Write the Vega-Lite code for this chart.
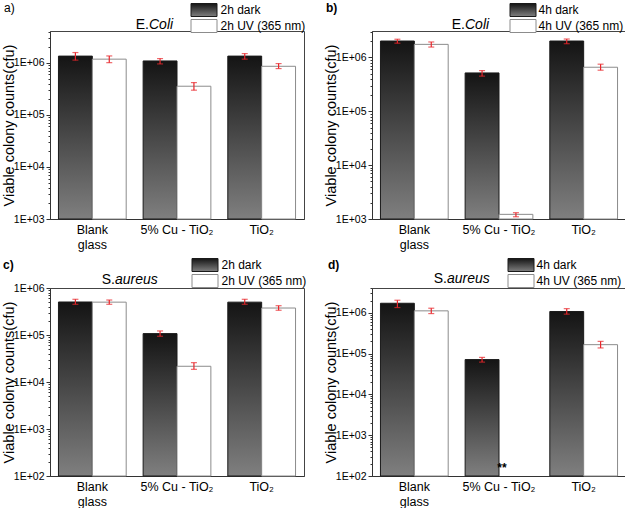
{
  "$schema": "https://vega.github.io/schema/vega-lite/v6.json",
  "padding": {"left": 0, "top": 1, "right": 0, "bottom": 0},
  "config": {
    "font": "Liberation Sans",
    "view": {"stroke": "#444", "strokeWidth": 1},
    "axis": {"grid": false, "domainColor": "#333", "tickColor": "#333", "labelColor": "black", "titleColor": "black"}
  },
  "resolve": {"scale": {"xOffset": "independent", "stroke": "independent", "fill": "independent", "x": "independent", "y": "independent"}, "legend": {"stroke": "independent", "fill": "independent"}, "axis": {"x": "independent", "y": "independent"}},
  "datasets": {
    "a": [
      {"group": "Blank glass", "series": "2h dark", "value": 1350000, "lo": 1130000, "hi": 1580000},
      {"group": "Blank glass", "series": "2h UV (365 nm)", "value": 1180000, "lo": 1010000, "hi": 1360000},
      {"group": "5% Cu - TiO₂", "series": "2h dark", "value": 1090000, "lo": 955000, "hi": 1210000},
      {"group": "5% Cu - TiO₂", "series": "2h UV (365 nm)", "value": 356000, "lo": 299000, "hi": 418000},
      {"group": "TiO₂", "series": "2h dark", "value": 1350000, "lo": 1180000, "hi": 1510000},
      {"group": "TiO₂", "series": "2h UV (365 nm)", "value": 860000, "lo": 777000, "hi": 970000}
    ],
    "b": [
      {"group": "Blank glass", "series": "4h dark", "value": 2020000, "lo": 1840000, "hi": 2180000},
      {"group": "Blank glass", "series": "4h UV (365 nm)", "value": 1750000, "lo": 1560000, "hi": 1940000},
      {"group": "5% Cu - TiO₂", "series": "4h dark", "value": 516000, "lo": 450000, "hi": 570000},
      {"group": "5% Cu - TiO₂", "series": "4h UV (365 nm)", "value": 1220, "lo": 1100, "hi": 1310},
      {"group": "TiO₂", "series": "4h dark", "value": 2020000, "lo": 1800000, "hi": 2200000},
      {"group": "TiO₂", "series": "4h UV (365 nm)", "value": 658000, "lo": 580000, "hi": 750000}
    ],
    "c": [
      {"group": "Blank glass", "series": "2h dark", "value": 504000, "lo": 450000, "hi": 575000},
      {"group": "Blank glass", "series": "2h UV (365 nm)", "value": 500000, "lo": 450000, "hi": 555000},
      {"group": "5% Cu - TiO₂", "series": "2h dark", "value": 107000, "lo": 94000, "hi": 122000},
      {"group": "5% Cu - TiO₂", "series": "2h UV (365 nm)", "value": 21600, "lo": 18600, "hi": 25800},
      {"group": "TiO₂", "series": "2h dark", "value": 500000, "lo": 450000, "hi": 575000},
      {"group": "TiO₂", "series": "2h UV (365 nm)", "value": 375000, "lo": 336000, "hi": 420000}
    ],
    "d": [
      {"group": "Blank glass", "series": "4h dark", "value": 1720000, "lo": 1350000, "hi": 2040000},
      {"group": "Blank glass", "series": "4h UV (365 nm)", "value": 1120000, "lo": 960000, "hi": 1300000},
      {"group": "5% Cu - TiO₂", "series": "4h dark", "value": 71500, "lo": 62000, "hi": 81000},
      {"group": "TiO₂", "series": "4h dark", "value": 1080000, "lo": 930000, "hi": 1270000},
      {"group": "TiO₂", "series": "4h UV (365 nm)", "value": 166000, "lo": 138000, "hi": 200000}
    ]
  },
  "concat": [
    {
      "width": 254, "height": 188,
      "title": {"text": "a)", "anchor": "start", "frame": "group", "offset": -21, "dx": -46, "fontSize": 12, "fontWeight": "normal", "baseline": "alphabetic", "color": "black"},
      "data": {"name": "a"},
      "layer": [
        {
          "mark": {"type": "bar", "strokeWidth": 1},
          "encoding": {
            "x": {"field": "group", "type": "nominal", "title": null, "scale": {"domain": ["Blank glass", "5% Cu - TiO₂", "TiO₂"], "paddingInner": 0.2, "paddingOuter": 0.1}, "axis": {"labelFontSize": 12.5, "labelPadding": 4, "ticks": false, "labelAngle": 0, "labelLineHeight": 15, "labelExpr": "datum.value == 'Blank glass' ? ['Blank', 'glass'] : datum.value"}},
            "xOffset": {"field": "series", "type": "nominal", "scale": {"domain": ["2h dark", "2h UV (365 nm)"]}},
            "y": {"field": "value", "type": "quantitative", "stack": null, "title": "Viable colony counts(cfu)", "scale": {"type": "log", "domain": [1000, 4100000], "nice": false},
              "axis": {"titleFontSize": 14.5, "titleFontWeight": "normal", "titlePadding": -3, "labelFontSize": 10.5, "labelPadding": 2, "labelOverlap": false,
                "values": [1000, 2000, 3000, 4000, 5000, 6000, 7000, 8000, 9000, 10000, 20000, 30000, 40000, 50000, 60000, 70000, 80000, 90000, 100000, 200000, 300000, 400000, 500000, 600000, 700000, 800000, 900000, 1000000, 2000000, 3000000, 4000000],
                "labelExpr": "abs(log(datum.value)/LN10 - round(log(datum.value)/LN10)) < 0.001 ? '1E+0' + round(log(datum.value)/LN10) : ''",
                "tickSize": {"condition": {"test": "abs(log(datum.value)/LN10 - round(log(datum.value)/LN10)) < 0.001", "value": 4}, "value": 2}}},
            "fill": {"field": "series", "type": "nominal", "scale": {"domain": ["2h dark", "2h UV (365 nm)"], "range": [{"expr": "{gradient: 'linear', x1: 0, y1: 0, x2: 0, y2: 1, stops: [{offset: 0, color: '#141414'}, {offset: 1, color: '#7f7f7f'}]}"}, "white"]},
              "legend": {"title": null, "orient": "none", "legendX": 147, "legendY": -28, "symbolType": "M-2,-1H2V1H-2Z", "symbolSize": 169, "symbolStrokeWidth": 1, "labelFontSize": 12, "labelColor": "black", "labelOffset": 9.5, "rowPadding": -5.5, "padding": 0, "symbolOpacity": 1}},
            "stroke": {"field": "series", "type": "nominal", "scale": {"domain": ["2h dark", "2h UV (365 nm)"], "range": ["#1a1a1a", "#8c8c8c"]},
              "legend": {"title": null, "orient": "none", "legendX": 147, "legendY": -28, "symbolType": "M-2,-1H2V1H-2Z", "symbolSize": 169, "symbolStrokeWidth": 1, "labelFontSize": 12, "labelColor": "black", "labelOffset": 9.5, "rowPadding": -5.5, "padding": 0, "symbolOpacity": 1}}
          }
        },
        {
          "mark": {"type": "rule", "color": "#e8262b", "strokeWidth": 1.2},
          "encoding": {
            "x": {"field": "group", "type": "nominal", "title": null},
            "xOffset": {"field": "series", "type": "nominal"},
            "y": {"field": "lo", "type": "quantitative", "title": "Viable colony counts(cfu)"},
            "y2": {"field": "hi"}
          }
        },
        {
          "mark": {"type": "tick", "color": "#e8262b", "size": 6, "thickness": 1.2},
          "encoding": {
            "x": {"field": "group", "type": "nominal", "title": null},
            "xOffset": {"field": "series", "type": "nominal"},
            "y": {"field": "lo", "type": "quantitative", "title": "Viable colony counts(cfu)"}
          }
        },
        {
          "mark": {"type": "tick", "color": "#e8262b", "size": 6, "thickness": 1.2},
          "encoding": {
            "x": {"field": "group", "type": "nominal", "title": null},
            "xOffset": {"field": "series", "type": "nominal"},
            "y": {"field": "hi", "type": "quantitative", "title": "Viable colony counts(cfu)"}
          }
        },
        {
          "data": {"values": [{"t": "E."}]},
          "mark": {"type": "text", "align": "right", "baseline": "alphabetic", "dx": -28, "dy": -2, "fontSize": 14, "color": "black"},
          "encoding": {
            "x": {"datum": "5% Cu - TiO₂", "type": "nominal", "title": null},
            "y": {"datum": 4100000, "type": "quantitative", "title": "Viable colony counts(cfu)"},
            "text": {"field": "t"}
          }
        },
        {
          "data": {"values": [{"t": "Coli"}]},
          "mark": {"type": "text", "align": "left", "baseline": "alphabetic", "dx": -28, "dy": -2, "fontSize": 14, "fontStyle": "italic", "color": "black"},
          "encoding": {
            "x": {"datum": "5% Cu - TiO₂", "type": "nominal", "title": null},
            "y": {"datum": 4100000, "type": "quantitative", "title": "Viable colony counts(cfu)"},
            "text": {"field": "t"}
          }
        }
      ]
    },
    {
      "width": 254, "height": 188,
      "title": {"text": "b)", "anchor": "start", "frame": "group", "offset": -21, "dx": -46, "fontSize": 12, "fontWeight": "bold", "baseline": "alphabetic", "color": "black"},
      "data": {"name": "b"},
      "layer": [
        {
          "mark": {"type": "bar", "strokeWidth": 1},
          "encoding": {
            "x": {"field": "group", "type": "nominal", "title": null, "scale": {"domain": ["Blank glass", "5% Cu - TiO₂", "TiO₂"], "paddingInner": 0.2, "paddingOuter": 0.1}, "axis": {"labelFontSize": 12.5, "labelPadding": 4, "ticks": false, "labelAngle": 0, "labelLineHeight": 15, "labelExpr": "datum.value == 'Blank glass' ? ['Blank', 'glass'] : datum.value"}},
            "xOffset": {"field": "series", "type": "nominal", "scale": {"domain": ["4h dark", "4h UV (365 nm)"]}},
            "y": {"field": "value", "type": "quantitative", "stack": null, "title": "Viable colony counts(cfu)", "scale": {"type": "log", "domain": [1000, 3100000], "nice": false},
              "axis": {"titleFontSize": 14.5, "titleFontWeight": "normal", "titlePadding": -3, "labelFontSize": 10.5, "labelPadding": 2, "labelOverlap": false,
                "values": [1000, 2000, 3000, 4000, 5000, 6000, 7000, 8000, 9000, 10000, 20000, 30000, 40000, 50000, 60000, 70000, 80000, 90000, 100000, 200000, 300000, 400000, 500000, 600000, 700000, 800000, 900000, 1000000, 2000000, 3000000],
                "labelExpr": "abs(log(datum.value)/LN10 - round(log(datum.value)/LN10)) < 0.001 ? '1E+0' + round(log(datum.value)/LN10) : ''",
                "tickSize": {"condition": {"test": "abs(log(datum.value)/LN10 - round(log(datum.value)/LN10)) < 0.001", "value": 4}, "value": 2}}},
            "fill": {"field": "series", "type": "nominal", "scale": {"domain": ["4h dark", "4h UV (365 nm)"], "range": [{"expr": "{gradient: 'linear', x1: 0, y1: 0, x2: 0, y2: 1, stops: [{offset: 0, color: '#141414'}, {offset: 1, color: '#7f7f7f'}]}"}, "white"]},
              "legend": {"title": null, "orient": "none", "legendX": 144, "legendY": -28, "symbolType": "M-2,-1H2V1H-2Z", "symbolSize": 169, "symbolStrokeWidth": 1, "labelFontSize": 12, "labelColor": "black", "labelOffset": 8.5, "rowPadding": -5.5, "padding": 0, "symbolOpacity": 1}},
            "stroke": {"field": "series", "type": "nominal", "scale": {"domain": ["4h dark", "4h UV (365 nm)"], "range": ["#1a1a1a", "#8c8c8c"]},
              "legend": {"title": null, "orient": "none", "legendX": 144, "legendY": -28, "symbolType": "M-2,-1H2V1H-2Z", "symbolSize": 169, "symbolStrokeWidth": 1, "labelFontSize": 12, "labelColor": "black", "labelOffset": 8.5, "rowPadding": -5.5, "padding": 0, "symbolOpacity": 1}}
          }
        },
        {
          "mark": {"type": "rule", "color": "#e8262b", "strokeWidth": 1.2},
          "encoding": {
            "x": {"field": "group", "type": "nominal", "title": null},
            "xOffset": {"field": "series", "type": "nominal"},
            "y": {"field": "lo", "type": "quantitative", "title": "Viable colony counts(cfu)"},
            "y2": {"field": "hi"}
          }
        },
        {
          "mark": {"type": "tick", "color": "#e8262b", "size": 6, "thickness": 1.2},
          "encoding": {
            "x": {"field": "group", "type": "nominal", "title": null},
            "xOffset": {"field": "series", "type": "nominal"},
            "y": {"field": "lo", "type": "quantitative", "title": "Viable colony counts(cfu)"}
          }
        },
        {
          "mark": {"type": "tick", "color": "#e8262b", "size": 6, "thickness": 1.2},
          "encoding": {
            "x": {"field": "group", "type": "nominal", "title": null},
            "xOffset": {"field": "series", "type": "nominal"},
            "y": {"field": "hi", "type": "quantitative", "title": "Viable colony counts(cfu)"}
          }
        },
        {
          "data": {"values": [{"t": "E."}]},
          "mark": {"type": "text", "align": "right", "baseline": "alphabetic", "dx": -34, "dy": -2, "fontSize": 14, "color": "black"},
          "encoding": {
            "x": {"datum": "5% Cu - TiO₂", "type": "nominal", "title": null},
            "y": {"datum": 3100000, "type": "quantitative", "title": "Viable colony counts(cfu)"},
            "text": {"field": "t"}
          }
        },
        {
          "data": {"values": [{"t": "Coli"}]},
          "mark": {"type": "text", "align": "left", "baseline": "alphabetic", "dx": -34, "dy": -2, "fontSize": 14, "fontStyle": "italic", "color": "black"},
          "encoding": {
            "x": {"datum": "5% Cu - TiO₂", "type": "nominal", "title": null},
            "y": {"datum": 3100000, "type": "quantitative", "title": "Viable colony counts(cfu)"},
            "text": {"field": "t"}
          }
        }
      ]
    },
    {
      "width": 254, "height": 188,
      "title": {"text": "c)", "anchor": "start", "frame": "group", "offset": -23, "dx": -47, "fontSize": 12, "fontWeight": "bold", "baseline": "alphabetic", "color": "black"},
      "data": {"name": "c"},
      "layer": [
        {
          "mark": {"type": "bar", "strokeWidth": 1},
          "encoding": {
            "x": {"field": "group", "type": "nominal", "title": null, "scale": {"domain": ["Blank glass", "5% Cu - TiO₂", "TiO₂"], "paddingInner": 0.2, "paddingOuter": 0.1}, "axis": {"labelFontSize": 12.5, "labelPadding": 4, "ticks": false, "labelAngle": 0, "labelLineHeight": 15, "labelExpr": "datum.value == 'Blank glass' ? ['Blank', 'glass'] : datum.value"}},
            "xOffset": {"field": "series", "type": "nominal", "scale": {"domain": ["2h dark", "2h UV (365 nm)"]}},
            "y": {"field": "value", "type": "quantitative", "stack": null, "title": "Viable colony counts(cfu)", "scale": {"type": "log", "domain": [100, 1000000], "nice": false},
              "axis": {"titleFontSize": 14.5, "titleFontWeight": "normal", "titlePadding": -3, "labelFontSize": 10.5, "labelPadding": 2, "labelOverlap": false,
                "values": [100, 200, 300, 400, 500, 600, 700, 800, 900, 1000, 2000, 3000, 4000, 5000, 6000, 7000, 8000, 9000, 10000, 20000, 30000, 40000, 50000, 60000, 70000, 80000, 90000, 100000, 200000, 300000, 400000, 500000, 600000, 700000, 800000, 900000, 1000000],
                "labelExpr": "abs(log(datum.value)/LN10 - round(log(datum.value)/LN10)) < 0.001 ? '1E+0' + round(log(datum.value)/LN10) : ''",
                "tickSize": {"condition": {"test": "abs(log(datum.value)/LN10 - round(log(datum.value)/LN10)) < 0.001", "value": 4}, "value": 2}}},
            "fill": {"field": "series", "type": "nominal", "scale": {"domain": ["2h dark", "2h UV (365 nm)"], "range": [{"expr": "{gradient: 'linear', x1: 0, y1: 0, x2: 0, y2: 1, stops: [{offset: 0, color: '#141414'}, {offset: 1, color: '#7f7f7f'}]}"}, "white"]},
              "legend": {"title": null, "orient": "none", "legendX": 148, "legendY": -30, "symbolType": "M-2,-1H2V1H-2Z", "symbolSize": 169, "symbolStrokeWidth": 1, "labelFontSize": 12, "labelColor": "black", "labelOffset": 9.5, "rowPadding": -5.5, "padding": 0, "symbolOpacity": 1}},
            "stroke": {"field": "series", "type": "nominal", "scale": {"domain": ["2h dark", "2h UV (365 nm)"], "range": ["#1a1a1a", "#8c8c8c"]},
              "legend": {"title": null, "orient": "none", "legendX": 148, "legendY": -30, "symbolType": "M-2,-1H2V1H-2Z", "symbolSize": 169, "symbolStrokeWidth": 1, "labelFontSize": 12, "labelColor": "black", "labelOffset": 9.5, "rowPadding": -5.5, "padding": 0, "symbolOpacity": 1}}
          }
        },
        {
          "mark": {"type": "rule", "color": "#e8262b", "strokeWidth": 1.2},
          "encoding": {
            "x": {"field": "group", "type": "nominal", "title": null},
            "xOffset": {"field": "series", "type": "nominal"},
            "y": {"field": "lo", "type": "quantitative", "title": "Viable colony counts(cfu)"},
            "y2": {"field": "hi"}
          }
        },
        {
          "mark": {"type": "tick", "color": "#e8262b", "size": 6, "thickness": 1.2},
          "encoding": {
            "x": {"field": "group", "type": "nominal", "title": null},
            "xOffset": {"field": "series", "type": "nominal"},
            "y": {"field": "lo", "type": "quantitative", "title": "Viable colony counts(cfu)"}
          }
        },
        {
          "mark": {"type": "tick", "color": "#e8262b", "size": 6, "thickness": 1.2},
          "encoding": {
            "x": {"field": "group", "type": "nominal", "title": null},
            "xOffset": {"field": "series", "type": "nominal"},
            "y": {"field": "hi", "type": "quantitative", "title": "Viable colony counts(cfu)"}
          }
        },
        {
          "data": {"values": [{"t": "S."}]},
          "mark": {"type": "text", "align": "right", "baseline": "alphabetic", "dx": -62, "dy": -4, "fontSize": 14, "color": "black"},
          "encoding": {
            "x": {"datum": "5% Cu - TiO₂", "type": "nominal", "title": null},
            "y": {"datum": 1000000, "type": "quantitative", "title": "Viable colony counts(cfu)"},
            "text": {"field": "t"}
          }
        },
        {
          "data": {"values": [{"t": "aureus"}]},
          "mark": {"type": "text", "align": "left", "baseline": "alphabetic", "dx": -62, "dy": -4, "fontSize": 14, "fontStyle": "italic", "color": "black"},
          "encoding": {
            "x": {"datum": "5% Cu - TiO₂", "type": "nominal", "title": null},
            "y": {"datum": 1000000, "type": "quantitative", "title": "Viable colony counts(cfu)"},
            "text": {"field": "t"}
          }
        }
      ]
    },
    {
      "width": 254, "height": 188,
      "title": {"text": "d)", "anchor": "start", "frame": "group", "offset": -23, "dx": -44, "fontSize": 12, "fontWeight": "bold", "baseline": "alphabetic", "color": "black"},
      "data": {"name": "d"},
      "layer": [
        {
          "mark": {"type": "bar", "strokeWidth": 1},
          "encoding": {
            "x": {"field": "group", "type": "nominal", "title": null, "scale": {"domain": ["Blank glass", "5% Cu - TiO₂", "TiO₂"], "paddingInner": 0.2, "paddingOuter": 0.1}, "axis": {"labelFontSize": 12.5, "labelPadding": 4, "ticks": false, "labelAngle": 0, "labelLineHeight": 15, "labelExpr": "datum.value == 'Blank glass' ? ['Blank', 'glass'] : datum.value"}},
            "xOffset": {"field": "series", "type": "nominal", "scale": {"domain": ["4h dark", "4h UV (365 nm)"]}},
            "y": {"field": "value", "type": "quantitative", "stack": null, "title": "Viable colony counts(cfu)", "scale": {"type": "log", "domain": [100, 4070000], "nice": false},
              "axis": {"titleFontSize": 14.5, "titleFontWeight": "normal", "titlePadding": -3, "labelFontSize": 10.5, "labelPadding": 2, "labelOverlap": false,
                "values": [100, 200, 300, 400, 500, 600, 700, 800, 900, 1000, 2000, 3000, 4000, 5000, 6000, 7000, 8000, 9000, 10000, 20000, 30000, 40000, 50000, 60000, 70000, 80000, 90000, 100000, 200000, 300000, 400000, 500000, 600000, 700000, 800000, 900000, 1000000, 2000000, 3000000, 4000000],
                "labelExpr": "abs(log(datum.value)/LN10 - round(log(datum.value)/LN10)) < 0.001 ? '1E+0' + round(log(datum.value)/LN10) : ''",
                "tickSize": {"condition": {"test": "abs(log(datum.value)/LN10 - round(log(datum.value)/LN10)) < 0.001", "value": 4}, "value": 2}}},
            "fill": {"field": "series", "type": "nominal", "scale": {"domain": ["4h dark", "4h UV (365 nm)"], "range": [{"expr": "{gradient: 'linear', x1: 0, y1: 0, x2: 0, y2: 1, stops: [{offset: 0, color: '#141414'}, {offset: 1, color: '#7f7f7f'}]}"}, "white"]},
              "legend": {"title": null, "orient": "none", "legendX": 142, "legendY": -30, "symbolType": "M-2,-1H2V1H-2Z", "symbolSize": 169, "symbolStrokeWidth": 1, "labelFontSize": 12, "labelColor": "black", "labelOffset": 8.5, "rowPadding": -5.5, "padding": 0, "symbolOpacity": 1}},
            "stroke": {"field": "series", "type": "nominal", "scale": {"domain": ["4h dark", "4h UV (365 nm)"], "range": ["#1a1a1a", "#8c8c8c"]},
              "legend": {"title": null, "orient": "none", "legendX": 142, "legendY": -30, "symbolType": "M-2,-1H2V1H-2Z", "symbolSize": 169, "symbolStrokeWidth": 1, "labelFontSize": 12, "labelColor": "black", "labelOffset": 8.5, "rowPadding": -5.5, "padding": 0, "symbolOpacity": 1}}
          }
        },
        {
          "mark": {"type": "rule", "color": "#e8262b", "strokeWidth": 1.2},
          "encoding": {
            "x": {"field": "group", "type": "nominal", "title": null},
            "xOffset": {"field": "series", "type": "nominal"},
            "y": {"field": "lo", "type": "quantitative", "title": "Viable colony counts(cfu)"},
            "y2": {"field": "hi"}
          }
        },
        {
          "mark": {"type": "tick", "color": "#e8262b", "size": 6, "thickness": 1.2},
          "encoding": {
            "x": {"field": "group", "type": "nominal", "title": null},
            "xOffset": {"field": "series", "type": "nominal"},
            "y": {"field": "lo", "type": "quantitative", "title": "Viable colony counts(cfu)"}
          }
        },
        {
          "mark": {"type": "tick", "color": "#e8262b", "size": 6, "thickness": 1.2},
          "encoding": {
            "x": {"field": "group", "type": "nominal", "title": null},
            "xOffset": {"field": "series", "type": "nominal"},
            "y": {"field": "hi", "type": "quantitative", "title": "Viable colony counts(cfu)"}
          }
        },
        {
          "data": {"values": [{"group": "5% Cu - TiO₂", "series": "4h UV (365 nm)", "note": "**", "at": 160}]},
          "mark": {"type": "text", "baseline": "middle", "dx": -14, "fontSize": 12, "fontWeight": "bold", "color": "black"},
          "encoding": {
            "x": {"field": "group", "type": "nominal", "title": null},
            "xOffset": {"field": "series", "type": "nominal"},
            "y": {"field": "at", "type": "quantitative", "title": "Viable colony counts(cfu)"},
            "text": {"field": "note"}
          }
        },
        {
          "data": {"values": [{"t": "S."}]},
          "mark": {"type": "text", "align": "right", "baseline": "alphabetic", "dx": -52, "dy": -5, "fontSize": 14, "color": "black"},
          "encoding": {
            "x": {"datum": "5% Cu - TiO₂", "type": "nominal", "title": null},
            "y": {"datum": 4070000, "type": "quantitative", "title": "Viable colony counts(cfu)"},
            "text": {"field": "t"}
          }
        },
        {
          "data": {"values": [{"t": "aureus"}]},
          "mark": {"type": "text", "align": "left", "baseline": "alphabetic", "dx": -52, "dy": -5, "fontSize": 14, "fontStyle": "italic", "color": "black"},
          "encoding": {
            "x": {"datum": "5% Cu - TiO₂", "type": "nominal", "title": null},
            "y": {"datum": 4070000, "type": "quantitative", "title": "Viable colony counts(cfu)"},
            "text": {"field": "t"}
          }
        }
      ]
    }
  ],
  "columns": 2,
  "spacing": {"row": 6, "column": 14}
}
